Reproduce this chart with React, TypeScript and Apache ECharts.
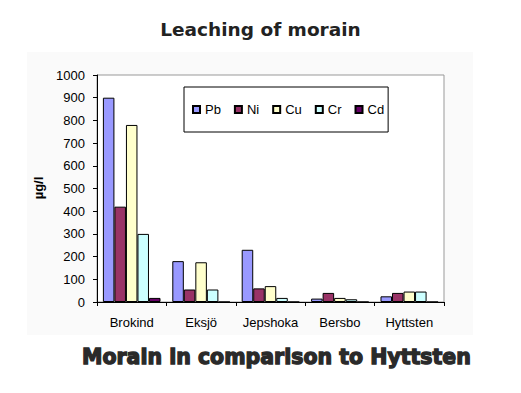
import React, { useEffect, useRef } from "react";
import * as echarts from "echarts";

const categories = ["Brokind", "Eksjö", "Jepshoka", "Bersbo", "Hyttsten"];
const seriesNames = ["Pb", "Ni", "Cu", "Cr", "Cd"];
const pb = [900, 180, 230, 15, 25];
const ni = [420, 55, 60, 40, 40];
const cu = [780, 175, 70, 18, 46];
const cr = [300, 55, 18, 12, 46];
const cd = [18, 0, 0, 0, 0];
const seriesValues = [pb, ni, cu, cr, cd];
const colors = ["#9999FF", "#993366", "#FFFFCC", "#CCFFFF", "#660066"];

export default function App() {
  const ref = useRef<HTMLDivElement>(null);
  useEffect(() => {
    if (!ref.current) return;
    const chart = echarts.init(ref.current, null, { renderer: "svg" });
    const font = "'Liberation Sans', Arial, sans-serif";
    chart.setOption({
      animation: false,
      backgroundColor: "#ffffff",
      textStyle: { fontFamily: font },
      graphic: [
        {
          type: "rect",
          z: -10,
          shape: { x: 27, y: 52, width: 446, height: 283 },
          style: { fill: "#fafafa", stroke: "none" },
        },
        {
          type: "text",
          left: "center",
          top: 20,
          style: {
            text: "Leaching of morain",
            font: "bold 18.5px 'DejaVu Sans', Verdana, sans-serif",
            fill: "#222222",
          },
        },
        {
          type: "text",
          x: 82,
          y: 346,
          style: {
            text: "Morain in comparison to Hyttsten",
            font: "bold 20.5px 'DejaVu Sans', Verdana, sans-serif",
            fill: "#2a2a2a",
            stroke: "#2a2a2a",
            lineWidth: 1.3,
            shadowColor: "rgba(0,0,0,0.35)",
            shadowOffsetX: 1,
            shadowOffsetY: 1,
            shadowBlur: 1,
          },
        },
        {
          type: "text",
          x: 38,
          y: 188,
          rotation: Math.PI / 2,
          style: {
            text: "µg/l",
            font: "bold 13px " + font,
            fill: "#000",
            align: "center",
            verticalAlign: "middle",
          },
        },
      ],
      legend: {
        left: 184,
        top: 87,
        orient: "horizontal",
        padding: [16, 4, 16, 8],
        itemWidth: 7,
        itemHeight: 7,
        itemGap: 13,
        backgroundColor: "#ffffff",
        borderColor: "#000000",
        borderWidth: 1,
        icon: "rect",
        textStyle: { fontSize: 13, color: "#000", fontFamily: font },
        data: seriesNames,
      },
      grid: {
        left: 97,
        top: 75,
        right: 77,
        bottom: 91,
        show: true,
        backgroundColor: "#ffffff",
        borderColor: "#999999",
        borderWidth: 1,
      },
      xAxis: {
        type: "category",
        data: categories,
        axisLine: { lineStyle: { color: "#000", width: 1 } },
        axisTick: { show: true, length: 4, lineStyle: { color: "#000" } },
        axisLabel: {
          color: "#000",
          fontSize: 13,
          fontFamily: font,
          margin: 14,
          interval: 0,
          hideOverlap: false,
        },
      },
      yAxis: {
        type: "value",
        min: 0,
        max: 1000,
        interval: 100,
        axisLine: { show: true, lineStyle: { color: "#000", width: 1 } },
        axisTick: { show: true, length: 4, lineStyle: { color: "#000" } },
        axisLabel: {
          color: "#000",
          fontSize: 13,
          fontFamily: font,
          margin: 12,
          formatter: (v: number) => String(v),
        },
        splitLine: { show: false },
      },
      series: seriesNames.map((name, i) => ({
        name,
        type: "bar",
        data: seriesValues[i],
        barGap: "0%",
        barCategoryGap: "17%",
        itemStyle: { color: colors[i], borderColor: "#000", borderWidth: 1 },
      })),
    });
    return () => chart.dispose();
  }, []);
  return (
    <div
      ref={ref}
      style={{ position: "fixed", left: 0, top: 0, width: 521, height: 393 }}
    />
  );
}
